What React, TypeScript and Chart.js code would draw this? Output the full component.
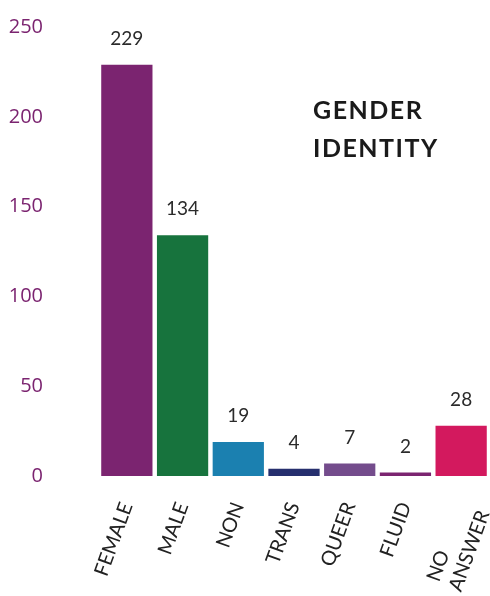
import React, { useEffect, useRef } from "react";
import { Chart, registerables } from "chart.js";

Chart.register(...registerables);

const categories: (string | string[])[] = ["FEMALE", "MALE", "NON", "TRANS", "QUEER", "FLUID", ["NO", "ANSWER"]];
const counts = [229, 134, 19, 4, 7, 2, 28];
const barColors = ["#7b2470", "#17733d", "#1b80b0", "#262f6e", "#744c8c", "#7b2470", "#d3195e"];
const yTicks = [0, 50, 100, 150, 200, 250];
const titleLines = ["GENDER", "IDENTITY"];

const X_FONT = "20px Lato, 'Open Sans', sans-serif";

// Left-align the lines of multi-line tick labels (Chart.js right-aligns rotated labels)
function leftAlignLines(labels: (string | string[])[]): (string | string[])[] {
  const c = document.createElement("canvas").getContext("2d")!;
  c.font = X_FONT;
  const sp = c.measureText(" ").width || 5;
  return labels.map((l) => {
    if (!Array.isArray(l)) return l;
    const w = Math.max(...l.map((s) => c.measureText(s).width));
    return l.map((s) => s + " ".repeat(Math.max(0, Math.round((w - c.measureText(s).width) / sp))));
  });
}

const valueLabels = {
  id: "valueLabels",
  afterDatasetsDraw(chart: any) {
    const ctx = chart.ctx;
    const meta = chart.getDatasetMeta(0);
    ctx.save();
    ctx.fillStyle = "#2b2b2b";
    ctx.font = "19px Lato, 'Open Sans', sans-serif";
    ctx.textAlign = "center";
    ctx.textBaseline = "middle";
    meta.data.forEach((bar: any, i: number) => {
      ctx.fillText(String(counts[i]), bar.x, bar.y - 26);
    });
    ctx.restore();
  },
};

const titlePlugin = {
  id: "titleText",
  afterDraw(chart: any) {
    const ctx = chart.ctx;
    const area = chart.chartArea;
    ctx.save();
    ctx.fillStyle = "#1a1a1a";
    ctx.font = "bold 25px Lato, 'Open Sans', sans-serif";
    (ctx as any).letterSpacing = "1.5px";
    ctx.textAlign = "left";
    ctx.textBaseline = "alphabetic";
    titleLines.forEach((t, i) => {
      ctx.fillText(t, area.left + 214, area.top + 92 + i * 38);
    });
    ctx.restore();
  },
};

export default function App() {
  const ref = useRef<HTMLCanvasElement>(null);
  useEffect(() => {
    if (!ref.current) return;
    const chart = new Chart(ref.current, {
      type: "bar",
      data: {
        labels: leftAlignLines(categories),
        datasets: [
          {
            data: counts,
            backgroundColor: barColors,
            borderWidth: 0,
            categoryPercentage: 1,
            barPercentage: 0.92,
          },
        ],
      },
      options: {
        animation: false,
        responsive: false,
        maintainAspectRatio: false,
        layout: { padding: { top: 27, right: 1, left: 0, bottom: 0 } },
        plugins: {
          legend: { display: false },
          tooltip: { enabled: false },
        },
        scales: {
          y: {
            min: 0,
            max: 250,
            grid: { display: false, drawTicks: false },
            border: { display: false },
            afterFit(scale: any) {
              scale.width = 99;
              scale.paddingTop = 0;
              scale.paddingBottom = 0;
            },
            afterBuildTicks(scale: any) {
              scale.ticks = yTicks.map((v) => ({ value: v }));
            },
            ticks: {
              color: "#7b2470",
              padding: 56,
              font: { family: "'Open Sans', sans-serif", size: 20 },
            },
          },
          x: {
            grid: { display: false, drawTicks: false },
            border: { display: false },
            afterFit(scale: any) {
              scale.height = 120;
              scale.paddingLeft = 0;
              scale.paddingRight = 0;
              scale.paddingTop = 0;
              scale.paddingBottom = 0;
            },
            ticks: {
              color: "#222222",
              minRotation: 70,
              maxRotation: 70,
              padding: 23,
              autoSkip: false,
              font: { family: "Lato, 'Open Sans', sans-serif", size: 20 },
            },
          },
        },
      },
      plugins: [valueLabels, titlePlugin],
    });
    return () => chart.destroy();
  }, []);
  return (
    <div style={{ position: "absolute", left: 0, top: 0, width: 490, height: 596, background: "#fff" }}>
      <canvas ref={ref} width={490} height={596} style={{ width: 490, height: 596 }} />
    </div>
  );
}
